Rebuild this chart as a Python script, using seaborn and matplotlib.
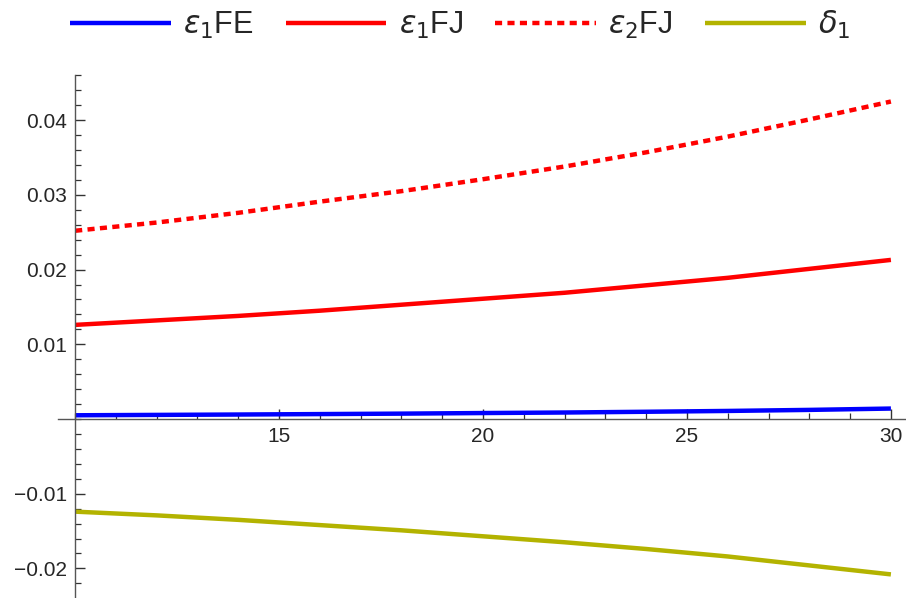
import matplotlib
matplotlib.use("Agg")
import matplotlib.pyplot as plt
from matplotlib.ticker import MultipleLocator
import pandas as pd
import seaborn as sns

# values
x = [10, 12, 14, 16, 18, 20, 22, 24, 26, 28, 30]
eps1_fe = [0.0005, 0.00055, 0.0006, 0.00066, 0.00072, 0.0008, 0.00087, 0.00097, 0.00108, 0.00122, 0.0014]
eps1_fj = [0.0126, 0.0132, 0.0138, 0.0145, 0.0153, 0.0161, 0.0169, 0.0179, 0.0189, 0.0201, 0.0213]
eps2_fj = [0.0252, 0.0263, 0.0276, 0.0291, 0.0305, 0.0321, 0.0338, 0.0357, 0.0378, 0.0401, 0.0425]
delta1 = [-0.0124, -0.0129, -0.0135, -0.0142, -0.0149, -0.0157, -0.0165, -0.0174, -0.0184, -0.0196, -0.0208]

labels = [r"$\epsilon_1$FE", r"$\epsilon_1$FJ", r"$\epsilon_2$FJ", r"$\delta_1$"]
xticks = [15, 20, 25, 30]
yticks = [-0.02, -0.01, 0.01, 0.02, 0.03, 0.04]
ytick_labels = ["\u22120.02", "\u22120.01", "0.01", "0.02", "0.03", "0.04"]

sns.set_style("ticks")
plt.rcParams["font.family"] = ["Liberation Sans", "DejaVu Sans"]
plt.rcParams["mathtext.fontset"] = "dejavusans"

fig = plt.figure(figsize=(9.06, 5.98), dpi=100)
ax = fig.add_axes([58 / 906, 0, 1 - 58 / 906, 1 - 75 / 598])

series = [eps1_fe, eps1_fj, eps2_fj, delta1]
colors = ["#0000ff", "#ff0000", "#ff0000", "#b3b300"]
styles = ["-", "-", (0, (1.6, 1.2)), "-"]
for vals, lab, col, ls in zip(series, labels, colors, styles):
    df = pd.DataFrame({"x": x, "y": vals})
    sns.lineplot(data=df, x="x", y="y", ax=ax, color=col, lw=3.2, label=lab,
                 linestyle=ls, dash_capstyle="butt", solid_capstyle="butt")

ax.set_xlim(9.58, 30.37)
ax.set_ylim(-0.02396, 0.04605)
ax.spines["left"].set_position(("data", 10))
ax.spines["bottom"].set_position(("data", 0))
ax.spines["right"].set_visible(False)
ax.spines["top"].set_visible(False)
for s in ["left", "bottom"]:
    ax.spines[s].set_color("#555555")
    ax.spines[s].set_linewidth(1.0)

ax.set_xticks(xticks)
ax.set_yticks(yticks, ytick_labels)
ax.xaxis.set_minor_locator(MultipleLocator(1))
ax.yaxis.set_minor_locator(MultipleLocator(0.002))
ax.tick_params(which="major", direction="in", length=7, width=1, labelsize=15, pad=6, color="#333333")
ax.tick_params(which="minor", direction="in", length=4.5, width=0.9, color="#333333")
ax.set_xlabel("")
ax.set_ylabel("")

handles, labs = ax.get_legend_handles_labels()
ax.legend().remove()
fig.legend(handles, labs, loc="center", bbox_to_anchor=(460 / 906, 1 - 25 / 598), ncol=4,
           frameon=False, fontsize=22, handlelength=3.3, handletextpad=0.4, columnspacing=1.05)

fig.savefig("out.png", dpi=100)
